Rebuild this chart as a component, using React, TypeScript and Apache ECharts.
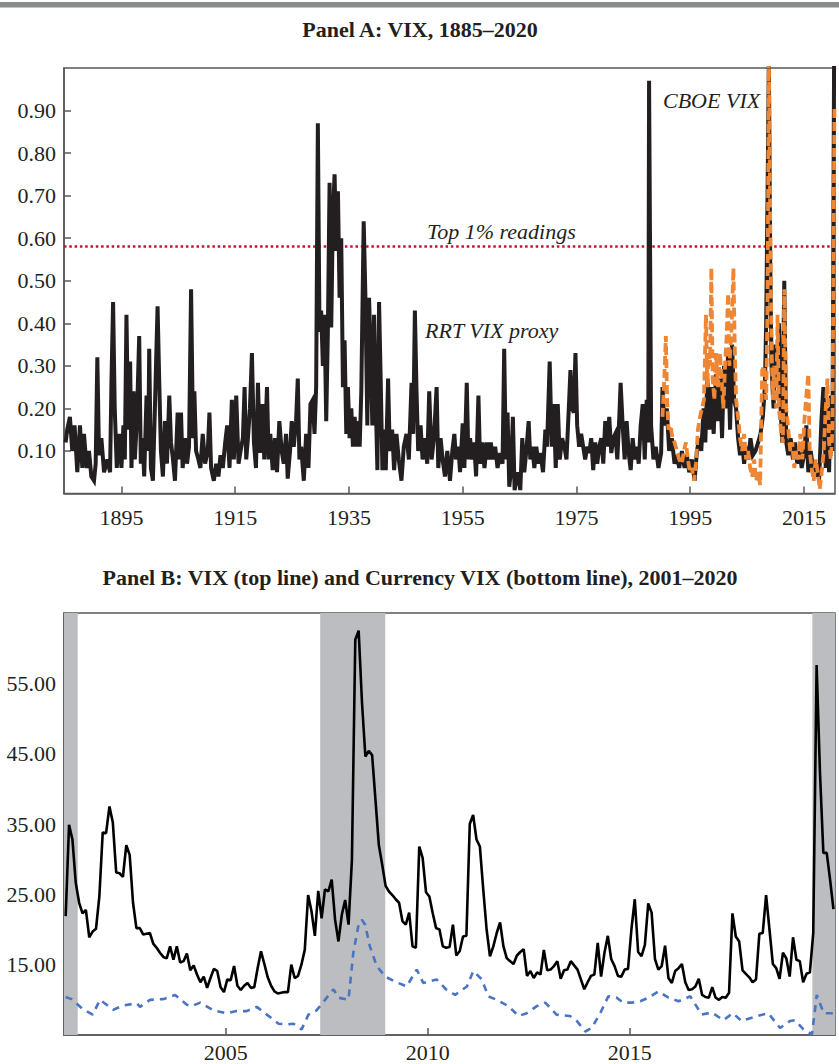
import React, { useEffect, useRef } from "react";
import * as echarts from "echarts";

// ---------- Panel A data ----------
const panelATitle = "Panel A: VIX, 1885–2020";
const panelAXTicks = [1895, 1915, 1935, 1955, 1975, 1995, 2015];
const panelAYTicks = [0.1, 0.2, 0.3, 0.4, 0.5, 0.6, 0.7, 0.8, 0.9];
const top1Threshold = 0.577;

// RRT VIX proxy: [year, value]
const rrtProxy: [number, number][] = [
  [1885.18, 0.12], [1885.47, 0.15], [1885.94, 0.18], [1886.35, 0.1], [1886.76, 0.16], [1887.24, 0.05], [1887.71, 0.16], [1888.12, 0.06],
  [1888.41, 0.14], [1888.88, 0.06], [1889.29, 0.1], [1889.71, 0.04], [1890.18, 0.03], [1890.47, 0.07], [1890.76, 0.32], [1891.06, 0.09],
  [1891.47, 0.13], [1891.94, 0.05], [1892.53, 0.08], [1893.0, 0.05], [1893.24, 0.26], [1893.53, 0.45], [1893.82, 0.2], [1894.18, 0.06],
  [1894.59, 0.14], [1895.0, 0.06], [1895.35, 0.16], [1895.59, 0.08], [1895.88, 0.42], [1896.18, 0.15], [1896.53, 0.31], [1896.76, 0.06],
  [1897.12, 0.24], [1897.35, 0.08], [1897.71, 0.17], [1898.12, 0.37], [1898.41, 0.07], [1898.71, 0.13], [1899.0, 0.04], [1899.41, 0.23],
  [1899.71, 0.1], [1899.88, 0.34], [1900.18, 0.06], [1900.53, 0.03], [1900.88, 0.2], [1901.35, 0.44], [1901.65, 0.26], [1901.94, 0.1],
  [1902.29, 0.04], [1902.65, 0.17], [1903.0, 0.07], [1903.41, 0.23], [1903.71, 0.12], [1904.06, 0.08], [1904.41, 0.03], [1904.88, 0.19],
  [1905.18, 0.08], [1905.47, 0.19], [1905.76, 0.06], [1906.18, 0.13], [1906.53, 0.07], [1906.88, 0.11], [1907.24, 0.48], [1907.59, 0.13],
  [1907.82, 0.24], [1908.12, 0.1], [1908.53, 0.08], [1908.88, 0.06], [1909.29, 0.14], [1909.71, 0.07], [1910.18, 0.1], [1910.47, 0.19],
  [1910.76, 0.06], [1911.24, 0.03], [1911.65, 0.07], [1912.06, 0.04], [1912.41, 0.09], [1912.82, 0.06], [1913.24, 0.12], [1913.59, 0.16],
  [1914.0, 0.06], [1914.41, 0.22], [1914.76, 0.08], [1915.18, 0.23], [1915.59, 0.07], [1915.94, 0.1], [1916.35, 0.13], [1916.65, 0.25],
  [1916.94, 0.08], [1917.24, 0.13], [1917.59, 0.2], [1917.94, 0.33], [1918.29, 0.12], [1918.65, 0.06], [1919.0, 0.26], [1919.35, 0.1],
  [1919.53, 0.1], [1919.82, 0.21], [1920.11, 0.08], [1920.59, 0.25], [1920.88, 0.08], [1921.17, 0.14], [1921.59, 0.055], [1922.0, 0.13],
  [1922.35, 0.05], [1922.76, 0.17], [1923.17, 0.1], [1923.53, 0.07], [1923.94, 0.14], [1924.23, 0.035], [1924.64, 0.1], [1924.94, 0.17],
  [1925.29, 0.11], [1925.7, 0.17], [1926.0, 0.27], [1926.29, 0.08], [1926.59, 0.11], [1927.06, 0.03], [1927.47, 0.14], [1927.88, 0.06],
  [1928.23, 0.21], [1928.64, 0.22], [1928.94, 0.14], [1929.23, 0.25], [1929.53, 0.87], [1929.82, 0.38], [1930.11, 0.43], [1930.41, 0.3],
  [1930.7, 0.42], [1931.0, 0.17], [1931.29, 0.38], [1931.59, 0.73], [1931.88, 0.39], [1932.17, 0.65], [1932.47, 0.75], [1932.76, 0.57],
  [1933.06, 0.71], [1933.35, 0.46], [1933.64, 0.6], [1933.94, 0.25], [1934.23, 0.36], [1934.53, 0.14], [1934.82, 0.25], [1935.11, 0.13],
  [1935.41, 0.2], [1935.7, 0.11], [1936.0, 0.18], [1936.29, 0.11], [1936.59, 0.17], [1936.88, 0.11], [1937.17, 0.24], [1937.59, 0.64],
  [1937.88, 0.47], [1938.23, 0.16], [1938.53, 0.46], [1938.82, 0.33], [1939.11, 0.16], [1939.41, 0.42], [1939.7, 0.22], [1940.0, 0.055],
  [1940.29, 0.45], [1940.59, 0.26], [1940.88, 0.055], [1941.17, 0.15], [1941.47, 0.055], [1941.88, 0.27], [1942.17, 0.1], [1942.59, 0.15],
  [1942.94, 0.055], [1943.35, 0.14], [1943.76, 0.08], [1944.23, 0.03], [1944.64, 0.11], [1945.11, 0.14], [1945.53, 0.08], [1946.0, 0.26],
  [1946.29, 0.14], [1946.59, 0.43], [1946.88, 0.24], [1947.17, 0.1], [1947.59, 0.16], [1947.94, 0.08], [1948.35, 0.13], [1948.76, 0.07],
  [1949.11, 0.24], [1949.53, 0.08], [1949.94, 0.13], [1950.41, 0.25], [1950.7, 0.06], [1951.11, 0.13], [1951.47, 0.08], [1951.88, 0.04],
  [1952.29, 0.1], [1952.76, 0.03], [1953.17, 0.1], [1953.53, 0.14], [1953.82, 0.08], [1954.24, 0.11], [1954.53, 0.05], [1955.0, 0.165],
  [1955.29, 0.06], [1955.71, 0.26], [1956.0, 0.08], [1956.29, 0.13], [1956.65, 0.08], [1957.0, 0.12], [1957.35, 0.04], [1957.76, 0.23],
  [1958.06, 0.07], [1958.47, 0.12], [1958.82, 0.06], [1959.24, 0.12], [1959.59, 0.08], [1959.94, 0.12], [1960.29, 0.08], [1960.71, 0.11],
  [1961.12, 0.06], [1961.59, 0.095], [1962.0, 0.07], [1962.29, 0.34], [1962.59, 0.08], [1962.88, 0.19], [1963.18, 0.016], [1963.47, 0.05],
  [1963.82, 0.18], [1964.12, 0.008], [1964.41, 0.03], [1964.71, 0.05], [1965.12, 0.008], [1965.47, 0.13], [1965.82, 0.05], [1966.18, 0.1],
  [1966.59, 0.17], [1966.88, 0.08], [1967.24, 0.11], [1967.59, 0.06], [1967.94, 0.11], [1968.29, 0.07], [1968.65, 0.095], [1969.12, 0.05],
  [1969.53, 0.15], [1969.82, 0.11], [1970.29, 0.31], [1970.65, 0.11], [1971.0, 0.21], [1971.35, 0.06], [1971.71, 0.21], [1972.06, 0.08],
  [1972.47, 0.13], [1972.88, 0.11], [1973.24, 0.08], [1973.65, 0.2], [1973.94, 0.29], [1974.24, 0.2], [1974.53, 0.19], [1974.82, 0.33],
  [1975.12, 0.16], [1975.47, 0.11], [1975.82, 0.14], [1976.18, 0.11], [1976.53, 0.08], [1976.88, 0.11], [1977.24, 0.095], [1977.59, 0.13],
  [1977.94, 0.055], [1978.29, 0.12], [1978.65, 0.07], [1979.0, 0.11], [1979.35, 0.13], [1979.71, 0.07], [1980.06, 0.17], [1980.41, 0.11],
  [1980.76, 0.18], [1981.12, 0.095], [1981.47, 0.13], [1981.82, 0.14], [1982.18, 0.08], [1982.53, 0.18], [1982.76, 0.26], [1983.12, 0.16],
  [1983.47, 0.08], [1983.82, 0.17], [1984.18, 0.095], [1984.53, 0.055], [1984.88, 0.13], [1985.24, 0.08], [1985.59, 0.11], [1985.94, 0.07],
  [1986.29, 0.16], [1986.65, 0.21], [1987.0, 0.08], [1987.35, 0.22], [1987.62, 0.12], [1987.76, 0.97], [1988.12, 0.16], [1988.53, 0.08],
  [1988.94, 0.11], [1989.41, 0.06], [1989.88, 0.095], [1990.12, 0.25], [1990.47, 0.16], [1990.88, 0.2], [1991.29, 0.1], [1991.76, 0.13],
  [1992.24, 0.07], [1992.65, 0.09], [1993.06, 0.06], [1993.53, 0.1], [1994.0, 0.06], [1994.41, 0.09], [1994.82, 0.05], [1995.29, 0.08],
  [1995.76, 0.03], [1996.18, 0.1], [1996.59, 0.13], [1996.94, 0.1], [1997.35, 0.2], [1997.65, 0.12], [1998.0, 0.27], [1998.35, 0.15],
  [1998.71, 0.25], [1999.12, 0.14], [1999.53, 0.28], [1999.88, 0.17], [2000.24, 0.27], [2000.59, 0.13], [2000.94, 0.3], [2001.29, 0.2],
  [2001.65, 0.33], [2002.0, 0.15], [2002.35, 0.35], [2002.71, 0.22], [2003.06, 0.2], [2003.41, 0.13], [2003.76, 0.09], [2004.12, 0.12],
  [2004.47, 0.07], [2004.82, 0.11], [2005.18, 0.08], [2005.59, 0.13], [2006.0, 0.09], [2006.47, 0.1], [2006.94, 0.12], [2007.35, 0.14],
  [2007.76, 0.18], [2008.12, 0.25], [2008.35, 0.4], [2008.59, 0.7], [2008.82, 1.02], [2009.06, 0.55], [2009.29, 0.3], [2009.65, 0.2],
  [2010.0, 0.35], [2010.35, 0.25], [2010.59, 0.4], [2010.88, 0.2], [2011.18, 0.12], [2011.53, 0.5], [2011.88, 0.12], [2012.24, 0.09],
  [2012.65, 0.13], [2013.06, 0.08], [2013.41, 0.12], [2013.82, 0.07], [2014.24, 0.1], [2014.59, 0.06], [2015.0, 0.09], [2015.41, 0.16],
  [2015.76, 0.05], [2016.18, 0.1], [2016.59, 0.06], [2016.94, 0.04], [2017.35, 0.07], [2017.65, 0.03], [2018.06, 0.17], [2018.41, 0.25],
  [2018.82, 0.06], [2019.12, 0.2], [2019.41, 0.05], [2019.71, 0.23], [2020.0, 0.1], [2020.29, 1.02],
];

// CBOE VIX: [year, value]
const cboeVix: [number, number][] = [
  [1990.12, 0.18], [1990.47, 0.28], [1990.71, 0.37], [1990.94, 0.22], [1991.18, 0.15], [1991.53, 0.16], [1991.88, 0.13], [1992.24, 0.12],
  [1992.65, 0.1], [1993.06, 0.08], [1993.53, 0.07], [1993.88, 0.1], [1994.24, 0.12], [1994.59, 0.08], [1994.94, 0.05], [1995.29, 0.06],
  [1995.65, 0.03], [1996.0, 0.07], [1996.35, 0.15], [1996.71, 0.18], [1997.06, 0.2], [1997.41, 0.22], [1997.76, 0.42], [1998.0, 0.25],
  [1998.24, 0.33], [1998.47, 0.3], [1998.71, 0.53], [1998.94, 0.27], [1999.24, 0.22], [1999.53, 0.33], [1999.88, 0.25], [2000.24, 0.33],
  [2000.47, 0.28], [2000.82, 0.2], [2001.18, 0.32], [2001.41, 0.37], [2001.65, 0.47], [2001.88, 0.3], [2002.24, 0.38], [2002.59, 0.53],
  [2002.82, 0.35], [2003.06, 0.22], [2003.41, 0.18], [2003.76, 0.13], [2004.12, 0.1], [2004.47, 0.14], [2004.82, 0.08], [2005.18, 0.1],
  [2005.53, 0.06], [2005.88, 0.04], [2006.24, 0.08], [2006.59, 0.03], [2006.94, 0.05], [2007.29, 0.02], [2007.65, 0.29], [2008.0, 0.3],
  [2008.35, 0.22], [2008.59, 0.45], [2008.82, 1.03], [2009.06, 0.65], [2009.29, 0.35], [2009.53, 0.22], [2009.76, 0.3], [2010.12, 0.2],
  [2010.35, 0.42], [2010.59, 0.2], [2010.94, 0.15], [2011.29, 0.12], [2011.53, 0.48], [2011.88, 0.2], [2012.24, 0.15], [2012.59, 0.1],
  [2012.94, 0.12], [2013.29, 0.06], [2013.65, 0.1], [2014.0, 0.08], [2014.35, 0.14], [2014.71, 0.08], [2015.06, 0.17], [2015.41, 0.23],
  [2015.76, 0.28], [2016.0, 0.1], [2016.35, 0.06], [2016.71, 0.03], [2017.06, 0.08], [2017.41, 0.05], [2017.76, 0.01], [2018.12, 0.05],
  [2018.47, 0.1], [2018.82, 0.2], [2019.12, 0.27], [2019.41, 0.12], [2019.71, 0.08], [2020.0, 0.15], [2020.35, 0.91],
];

// ---------- Panel B data ----------
const panelBTitle = "Panel B: VIX (top line) and Currency VIX (bottom line), 2001–2020";
const panelBXTicks = [2005, 2010, 2015];
const panelBYTicks = [15, 25, 35, 45, 55];
const vixFirstYear = 2001; // monthly series, first month January 2001
const vixMonthly = [
  21.9, 34.9, 32.8, 26.6, 23.8, 22.3, 22.8, 18.9, 19.7, 20.1, 24.7, 33.8, 33.7, 37.5, 35.2, 28.1, 28.0, 27.5, 32.0, 30.6,
  23.8, 20.2, 20.2, 19.3, 19.4, 19.5, 18.0, 17.4, 16.7, 16.1, 15.9, 17.6, 15.7, 17.6, 15.3, 15.5, 16.6, 14.2, 14.9, 13.6,
  12.5, 13.3, 11.7, 13.1, 14.4, 14.1, 11.8, 11.1, 12.9, 12.8, 14.8, 12.0, 11.4, 12.0, 12.4, 11.7, 11.8, 14.5, 16.9, 15.1,
  13.2, 12.0, 11.2, 10.9, 11.0, 11.1, 11.1, 15.0, 13.1, 13.4, 15.0, 17.1, 24.9, 22.6, 19.1, 25.5, 21.6, 25.7, 25.4, 27.1,
  21.4, 18.3, 22.1, 24.2, 20.7, 29.9, 61.2, 62.5, 52.2, 44.6, 45.4, 44.8, 38.4, 32.0, 29.2, 26.2, 25.4, 24.9, 24.3, 23.8,
  21.2, 20.7, 22.4, 17.6, 17.4, 31.8, 30.2, 25.3, 24.7, 22.3, 20.2, 20.0, 17.6, 17.4, 17.5, 20.7, 16.3, 16.9, 19.0, 19.1,
  35.0, 36.3, 32.8, 31.8, 25.7, 20.0, 16.2, 17.6, 19.5, 21.0, 17.6, 15.9, 15.5, 15.1, 16.3, 16.8, 17.2, 13.4, 14.1, 13.1,
  13.9, 13.6, 17.1, 14.2, 14.3, 14.8, 15.5, 13.0, 14.2, 14.3, 15.5, 14.9, 14.3, 12.9, 11.5, 12.5, 13.4, 13.6, 18.1, 13.3,
  16.7, 19.1, 15.8, 14.8, 13.4, 13.3, 14.3, 14.4, 20.0, 24.3, 16.8, 16.2, 17.8, 23.7, 22.4, 15.8, 14.3, 14.8, 17.7, 13.1,
  12.4, 14.1, 14.5, 15.1, 12.5, 11.4, 11.5, 11.9, 13.0, 10.7, 10.4, 10.3, 11.8, 10.3, 10.0, 10.4, 10.3, 11.0, 22.3, 19.0,
  18.3, 14.2, 13.7, 13.2, 12.5, 12.9, 19.4, 19.5, 24.9, 20.0, 15.1, 14.5, 13.0, 16.7, 15.9, 13.3, 18.9, 15.7, 15.5, 12.5,
  13.7, 13.9, 19.5, 57.6, 42.3, 30.9, 30.9, 27.1, 22.9,
];
// Currency VIX: [year, value]
const currencyVix: [number, number][] = [
  [2001.04, 10.4], [2001.19, 10.1], [2001.44, 8.8], [2001.71, 7.9], [2001.89, 10.0], [2002.22, 8.6], [2002.47, 9.2], [2002.8, 9.5],
  [2002.88, 9.0], [2003.13, 10.0], [2003.46, 10.1], [2003.75, 10.7], [2004.04, 9.3], [2004.16, 9.1], [2004.37, 9.6], [2004.7, 8.5],
  [2005.03, 8.1], [2005.27, 8.4], [2005.52, 8.4], [2005.77, 9.0], [2006.02, 7.9], [2006.31, 6.6], [2006.51, 6.5], [2006.68, 6.6],
  [2006.88, 5.8], [2007.05, 7.9], [2007.25, 8.5], [2007.46, 10.0], [2007.67, 11.5], [2007.79, 10.3], [2008.04, 10.0], [2008.16, 16.7],
  [2008.29, 20.7], [2008.37, 21.4], [2008.45, 20.7], [2008.57, 17.6], [2008.74, 14.8], [2008.95, 13.3], [2009.19, 12.6], [2009.48, 11.9],
  [2009.73, 14.3], [2009.89, 12.4], [2010.22, 12.9], [2010.47, 11.4], [2010.68, 10.7], [2010.97, 11.9], [2011.13, 14.1], [2011.34, 12.9],
  [2011.5, 10.5], [2011.71, 10.0], [2012.0, 9.1], [2012.25, 7.7], [2012.45, 8.1], [2012.7, 9.1], [2012.91, 9.6], [2013.19, 7.9],
  [2013.52, 7.7], [2013.69, 7.0], [2013.9, 5.5], [2014.06, 6.0], [2014.27, 8.1], [2014.47, 10.5], [2014.68, 10.3], [2014.84, 9.6],
  [2015.05, 9.6], [2015.26, 9.8], [2015.46, 10.3], [2015.71, 11.2], [2015.96, 10.3], [2016.21, 9.8], [2016.5, 10.5], [2016.78, 7.9],
  [2017.03, 8.2], [2017.32, 7.1], [2017.55, 8.1], [2017.77, 7.0], [2018.15, 7.7], [2018.43, 8.1], [2018.72, 6.0], [2018.97, 7.0],
  [2019.09, 7.1], [2019.3, 5.8], [2019.51, 5.1], [2019.63, 10.7], [2019.8, 8.1], [2020.04, 8.1],
];
const recessions: [number, number][] = [
  [2001.0, 2001.34],
  [2007.34, 2008.95],
  [2019.52, 2020.08],
];

const FONT = "'Liberation Serif', 'Times New Roman', serif";
const INK = "#231f20";
const FRAME = "#57585a";

function axisX(gridIndex: number, min: number, max: number, ticks: number[], margin: number) {
  return {
    type: "value",
    gridIndex,
    min,
    max,
    splitLine: { show: false },
    axisLine: { show: true, onZero: false, lineStyle: { color: FRAME, width: 1.5 } },
    axisTick: { show: true, inside: true, length: 7, customValues: ticks, lineStyle: { color: FRAME, width: 1.5 } },
    axisLabel: {
      customValues: ticks,
      formatter: (v: number) => String(Math.round(v)),
      fontFamily: FONT,
      fontSize: 22,
      color: INK,
      margin,
    },
  };
}

function axisY(gridIndex: number, min: number, max: number, ticks: number[]) {
  return {
    type: "value",
    gridIndex,
    min,
    max,
    splitLine: { show: false },
    axisLine: { show: true, onZero: false, lineStyle: { color: FRAME, width: 1.5 } },
    axisTick: { show: true, inside: true, length: 7, customValues: ticks, lineStyle: { color: FRAME, width: 1.5 } },
    axisLabel: {
      customValues: ticks,
      formatter: (v: number) => v.toFixed(2),
      fontFamily: FONT,
      fontSize: 22,
      color: INK,
      margin: 8,
    },
  };
}

export default function App() {
  const ref = useRef<HTMLDivElement>(null);
  useEffect(() => {
    if (!ref.current) return;
    const chart = echarts.init(ref.current, undefined, { renderer: "svg" });
    const vixData = vixMonthly.map((v, i) => [vixFirstYear + (i + 0.5) / 12, v]);
    chart.setOption({
      animation: false,
      backgroundColor: "#ffffff",
      grid: [
        { left: 64, top: 68, width: 771, height: 425.5, show: true, borderColor: FRAME, borderWidth: 1.5, backgroundColor: "transparent", outerBoundsMode: "none" },
        { left: 64, top: 613, width: 771, height: 422, show: true, borderColor: FRAME, borderWidth: 1.5, backgroundColor: "transparent", outerBoundsMode: "none" },
      ],
      xAxis: [axisX(0, 1884.9, 2020.45, panelAXTicks, 13), axisX(1, 2001, 2020.08, panelBXTicks, 6)],
      yAxis: [axisY(0, 0, 1, panelAYTicks), axisY(1, 5, 65, panelBYTicks)],
      graphic: [
        { type: "rect", shape: { x: 0, y: 2, width: 839, height: 5.5 }, style: { fill: "#8a8b8d" }, silent: true },
        {
          type: "text",
          x: 420,
          y: 29,
          style: { text: panelATitle, fontFamily: FONT, fontWeight: "bold", fontSize: 22, fill: INK, align: "center", verticalAlign: "middle" },
        },
        {
          type: "text",
          x: 420,
          y: 577,
          style: { text: panelBTitle, fontFamily: FONT, fontWeight: "bold", fontSize: 22, fill: INK, align: "center", verticalAlign: "middle" },
        },
        {
          type: "text",
          x: 427,
          y: 231,
          z: 10,
          style: { text: "Top 1% readings", fontFamily: FONT, fontStyle: "italic", fontSize: 22, fill: INK, align: "left", verticalAlign: "middle" },
        },
        {
          type: "text",
          x: 425,
          y: 330,
          z: 10,
          style: { text: "RRT VIX proxy", fontFamily: FONT, fontStyle: "italic", fontSize: 22, fill: INK, align: "left", verticalAlign: "middle" },
        },
        {
          type: "text",
          x: 663,
          y: 100,
          z: 10,
          style: { text: "CBOE VIX", fontFamily: FONT, fontStyle: "italic", fontSize: 22, fill: INK, align: "left", verticalAlign: "middle" },
        },
      ],
      series: [
        {
          name: "RRT VIX proxy",
          type: "line",
          xAxisIndex: 0,
          yAxisIndex: 0,
          data: rrtProxy,
          showSymbol: false,
          symbol: "none",
          clip: true,
          z: 3,
          lineStyle: { color: INK, width: 4, join: "miter" },
          markLine: {
            silent: true,
            z: 2,
            symbol: ["none", "none"],
            label: { show: false },
            lineStyle: { color: "#c8102e", width: 2.5, type: [2.5, 2.8] },
            data: [{ yAxis: top1Threshold }],
          },
        },
        {
          name: "CBOE VIX",
          type: "line",
          xAxisIndex: 0,
          yAxisIndex: 0,
          data: cboeVix,
          showSymbol: false,
          symbol: "none",
          clip: true,
          z: 4,
          lineStyle: { color: "#ee8633", width: 3.8, type: [9, 4] },
        },
        {
          name: "VIX",
          type: "line",
          xAxisIndex: 1,
          yAxisIndex: 1,
          data: vixData,
          showSymbol: false,
          symbol: "none",
          z: 3,
          lineStyle: { color: "#000000", width: 2.6 },
          markArea: {
            silent: true,
            itemStyle: { color: "#bcbdc1", opacity: 1 },
            data: recessions.map(([a, b]) => [{ xAxis: a }, { xAxis: b }]),
          },
        },
        {
          name: "Currency VIX",
          type: "line",
          xAxisIndex: 1,
          yAxisIndex: 1,
          data: currencyVix,
          showSymbol: false,
          symbol: "none",
          z: 4,
          lineStyle: { color: "#4a74c4", width: 2.6, type: [7, 6] },
        },
      ],
    });
    return () => chart.dispose();
  }, []);
  return <div ref={ref} style={{ position: "absolute", left: 0, top: 0, width: 839, height: 1064 }} />;
}
